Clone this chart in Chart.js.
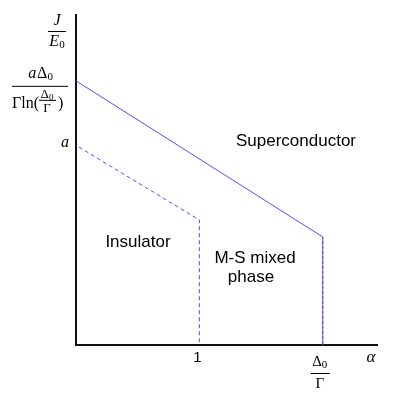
<!DOCTYPE html>
<html>
<head>
<meta charset="utf-8">
<script src="https://cdn.jsdelivr.net/npm/chart.js@4.4.0/dist/chart.umd.min.js"></script>
<style>
    html, body { margin: 0; padding: 0; background: #fff; }
    #wrap { width: 412px; height: 405px; }
</style>
</head>
<body>
<div id="wrap"><canvas id="myChart"></canvas></div>
<script>
// superconductor boundary (solid slope, then dashed drop at Δ0/Γ)
const sc_x = [0, 2.0, 2.0];
const sc_y = [1.308, 0.535, 0];
// insulator boundary (dashed)
const ins_x = [0.024, 1.0, 1.0];
const ins_y = [0.98, 0.619, 0];

// tick positions on the axes
const x_ticks = [1, 2.0];
const y_ticks = [1.0, 1.308];

const region_names = ['Superconductor', 'Insulator', 'M-S mixed', 'phase'];

const line_color = 'rgb(80,80,255)';
const math_font = '"Liberation Serif", "DejaVu Serif", serif';

// draws text with a smaller "0" subscript
function draw_sub(ctx, base, sub, x, y, size, italic) {
    ctx.font = (italic ? 'italic ' : '') + size + 'px ' + math_font;
    let w1 = ctx.measureText(base).width;
    ctx.font = Math.round(size * 0.7) + 'px ' + math_font;
    let w2 = ctx.measureText(sub).width;
    let left = x - (w1 + w2) / 2;
    ctx.textAlign = 'left';
    ctx.font = (italic ? 'italic ' : '') + size + 'px ' + math_font;
    ctx.fillText(base, left, y);
    ctx.font = Math.round(size * 0.7) + 'px ' + math_font;
    ctx.fillText(sub, left + w1, y + size * 0.2);
}

function frac_line(ctx, x1, x2, y) {
    ctx.beginPath();
    ctx.moveTo(x1, y + 0.5);
    ctx.lineTo(x2, y + 0.5);
    ctx.stroke();
}

const labelsPlugin = {
    id: 'labels',
    afterDraw(chart) {
        const ctx = chart.ctx;
        const xs = chart.scales.x;
        const ys = chart.scales.y;
        ctx.save();
        ctx.fillStyle = '#000';
        ctx.strokeStyle = '#000';
        ctx.lineWidth = 1;
        ctx.textBaseline = 'middle';

        // y axis title J / E0
        ctx.textAlign = 'center';
        ctx.font = 'italic 16px ' + math_font;
        ctx.fillText('J', 57, 21);
        frac_line(ctx, 48, 66, 31);
        draw_sub(ctx, 'E', '0', 57, 42, 16, true);

        // y tick: a Δ0 / (Γ ln(Δ0/Γ))
        let yt = ys.getPixelForValue(y_ticks[1]);
        ctx.font = 'italic 16px ' + math_font;
        let wa = ctx.measureText('a').width;
        ctx.font = '16px ' + math_font;
        let wd = ctx.measureText('Δ').width;
        let l0 = 41 - (wa + wd + 7) / 2;
        ctx.textAlign = 'left';
        ctx.font = 'italic 16px ' + math_font;
        ctx.fillText('a', l0, yt - 7);
        draw_sub(ctx, 'Δ', '0', l0 + wa + (wd + 7) / 2, yt - 7, 16, false);
        frac_line(ctx, 12, 68, yt + 5);
        ctx.textAlign = 'left';
        ctx.font = '16px ' + math_font;
        ctx.fillText('Γln(', 12, yt + 23);
        let wl = ctx.measureText('Γln(').width;
        draw_sub(ctx, 'Δ', '0', 12 + wl + 8, yt + 14, 13, false);
        frac_line(ctx, 12 + wl, 12 + wl + 17, yt + 19);
        ctx.textAlign = 'center';
        ctx.font = '13px ' + math_font;
        ctx.fillText('Γ', 12 + wl + 8, yt + 28);
        ctx.font = '16px ' + math_font;
        ctx.textAlign = 'left';
        ctx.fillText(')', 12 + wl + 19, yt + 23);

        // y tick: a
        ctx.textAlign = 'center';
        ctx.font = 'italic 16px ' + math_font;
        ctx.fillText('a', 65, ys.getPixelForValue(y_ticks[0]));

        // x ticks
        ctx.font = '15px "Liberation Sans", Arial, sans-serif';
        ctx.fillText('1', xs.getPixelForValue(x_ticks[0]) - 2, 358);
        let xd = xs.getPixelForValue(x_ticks[1]) - 3;
        draw_sub(ctx, 'Δ', '0', xd, 362, 15, false);
        frac_line(ctx, xd - 9, xd + 10, 373);
        ctx.textAlign = 'center';
        ctx.font = '15px ' + math_font;
        ctx.fillText('Γ', xd, 384);

        // x axis title
        ctx.font = 'italic 17px ' + math_font;
        ctx.fillText('α', 371, 358);

        // region names
        ctx.font = '17px "Liberation Sans", Arial, sans-serif';
        ctx.fillText(region_names[0], 296, 141);
        ctx.fillText(region_names[1], 138, 242);
        ctx.fillText(region_names[2], 255, 258);
        ctx.fillText(region_names[3], 251, 277);
        ctx.restore();
    }
};

const ctx = document.getElementById('myChart').getContext('2d');
const myChart = new Chart(ctx, {
    type: 'scatter',
    data: {
        datasets: [
            {
                data: sc_x.map((v, i) => ({x: v, y: sc_y[i]})),
                showLine: true,
                borderColor: line_color,
                borderWidth: 1,
                pointRadius: 0,
                segment: {
                    borderDash: c => c.p0DataIndex === 1 ? [3, 2] : []
                }
            },
            {
                data: ins_x.map((v, i) => ({x: v, y: ins_y[i]})),
                showLine: true,
                borderColor: line_color,
                borderWidth: 1,
                borderDash: [4, 3],
                pointRadius: 0
            }
        ]
    },
    options: {
        responsive: true,
        maintainAspectRatio: false,
        animation: false,
        layout: {
            padding: {left: 68, right: 35, top: 15, bottom: 52}
        },
        plugins: {
            legend: {display: false},
            title: {display: false},
            tooltip: {enabled: false}
        },
        scales: {
            x: {
                type: 'linear',
                min: 0,
                max: 2.44,
                grid: {display: false},
                ticks: {display: false},
                border: {display: true, color: '#111', width: 2}
            },
            y: {
                type: 'linear',
                min: 0,
                max: 1.634,
                grid: {display: false},
                ticks: {display: false},
                border: {display: true, color: '#111', width: 2}
            }
        }
    },
    plugins: [labelsPlugin]
});
</script>
</body>
</html>
